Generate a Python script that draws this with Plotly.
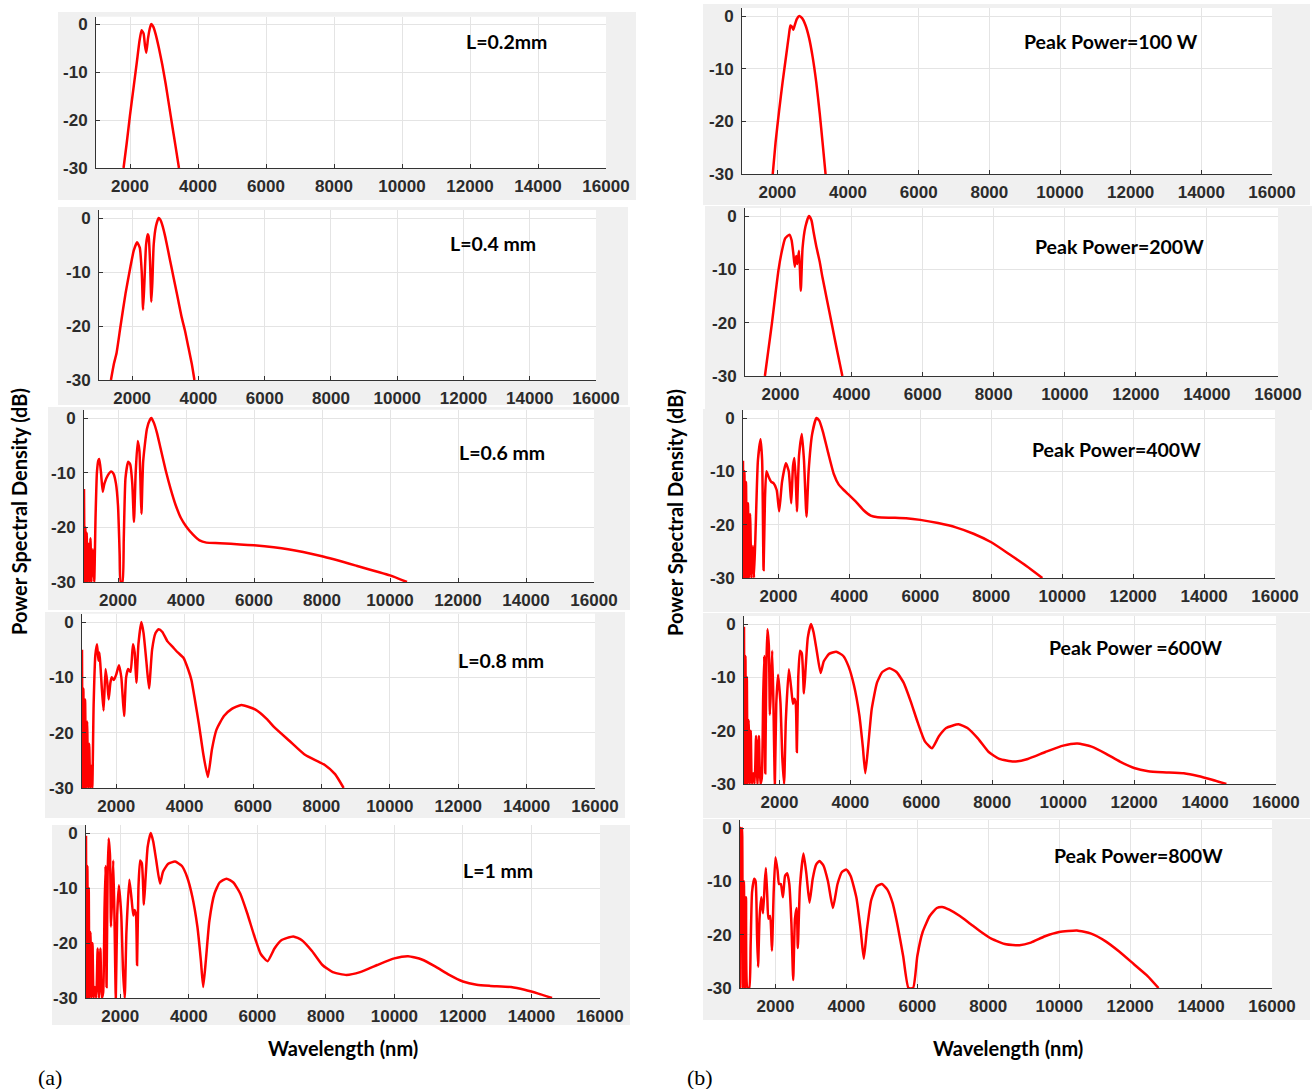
import plotly.graph_objects as go

# ---------------- data (wavelength nm, PSD dB) ----------------
x_ticks = [2000, 4000, 6000, 8000, 10000, 12000, 14000, 16000]
x_tick_text = ["2000", "4000", "6000", "8000", "10000", "12000", "14000", "16000"]
y_ticks = [-30, -20, -10, 0]
y_tick_text = ["-30", "-20", "-10", "0"]

l02_x = [1810, 1900, 2000, 2100, 2200, 2280, 2340, 2400, 2440, 2480, 2530, 2580, 2625, 2680, 2750, 2850, 2950, 3050, 3150, 3250, 3340, 3440]
l02_y = [-30, -25, -19, -13.5, -8, -3.5, -1.3, -2, -4.5, -6, -3, -1, 0, -0.5, -2, -5, -8.5, -12.5, -17, -21.5, -25.5, -30]

l04_x = [1360, 1450, 1530, 1650, 1800, 1950, 2050, 2150, 2230, 2290, 2330, 2370, 2420, 2470, 2500, 2540, 2580, 2610, 2650, 2720, 2800, 2850, 2920, 3000, 3100, 3200, 3300, 3400, 3500, 3600, 3700, 3800, 3880]
l04_y = [-30, -27, -25, -20, -14, -9, -6, -4.5, -5.5, -10, -17, -12, -5, -3, -3.5, -8, -15.5, -12, -5, -1.5, 0, -0.3, -1.5, -3.5, -6.5, -9.5, -12.5, -15.5, -18.5, -21, -24, -27, -30]

l06_x = [1000, 1020, 1040, 1060, 1080, 1100, 1130, 1160, 1190, 1220, 1260, 1300, 1340, 1380, 1420, 1450, 1500, 1550, 1600, 1700, 1800, 1870, 1940, 2000, 2050, 2080, 2130, 2170, 2220, 2300, 2360, 2420, 2470, 2520, 2580, 2630, 2670, 2690, 2740, 2850, 2940, 2980, 3050, 3150, 3250, 3400, 3550, 3700, 3850, 4000, 4200, 4400, 4600, 5000, 6000, 7000, 8000, 9000, 10000, 10500]
l06_y = [-13, -30, -20, -30, -21, -30, -23, -30, -22, -30, -24, -30, -18, -10, -7.8, -7.5, -10, -13.5, -12, -10.5, -9.8, -10.2, -12, -16, -25, -30, -30, -22, -11, -8, -8.5, -12, -19, -10, -4.2, -6, -14, -17.5, -8, -2, -0.3, 0, -0.8, -2.8, -5.5, -9.5, -13, -16, -18.3, -19.8, -21.3, -22.4, -22.8, -22.9, -23.3, -24, -25.3, -27, -28.8, -30]

l08_x = [1000, 1020, 1040, 1060, 1090, 1120, 1150, 1180, 1210, 1240, 1270, 1300, 1340, 1390, 1440, 1480, 1510, 1540, 1580, 1630, 1690, 1740, 1780, 1830, 1870, 1930, 2000, 2080, 2150, 2230, 2290, 2350, 2420, 2490, 2540, 2590, 2650, 2735, 2800, 2880, 2960, 3050, 3150, 3240, 3350, 3500, 3650, 3800, 3970, 4100, 4200, 4300, 4420, 4550, 4680, 4800, 4930, 5150, 5380, 5660, 6060, 6400, 6620, 7070, 7520, 8090, 8400, 8650]
l08_y = [-5, -30, -12, -30, -14, -30, -18, -30, -22, -30, -26, -30, -15, -6, -4, -7, -5.5, -8, -12, -16, -8.5, -11, -14, -11, -10, -10.5, -9.5, -7.8, -10, -17, -10, -8.5, -9, -4, -5.5, -11, -4, 0, -2, -7, -12, -5, -2, -1.3, -1.8, -3.5, -4.5, -5.5, -6.5, -8.5, -10.5, -14, -18.5, -24, -28, -23, -19.5, -17, -15.7, -15, -15.8, -17.5, -19, -21.5, -24, -25.8, -27.5, -30]

l10_x = [1000, 1020, 1040, 1060, 1080, 1100, 1130, 1160, 1190, 1220, 1260, 1300, 1340, 1380, 1420, 1460, 1500, 1540, 1570, 1600, 1630, 1660, 1700, 1730, 1760, 1795, 1830, 1870, 1910, 1960, 2030, 2080, 2130, 2180, 2265, 2330, 2380, 2420, 2460, 2490, 2530, 2580, 2630, 2690, 2740, 2800, 2890, 2960, 3050, 3160, 3250, 3400, 3600, 3800, 3950, 4100, 4250, 4350, 4420, 4500, 4600, 4750, 4900, 5100, 5300, 5500, 5700, 5900, 6100, 6300, 6500, 6700, 7050, 7300, 7600, 7900, 8200, 8600, 9000, 9500, 10000, 10400, 10800, 11200, 11600, 12000, 12400, 12800, 13400, 13800, 14200, 14600]
l10_y = [-0.5, -30, -6, -30, -10, -30, -18, -30, -20, -30, -28, -30, -21, -30, -21, -30, -29, -14, -6, -28, -8, -1, -4, -17, -12, -5, -15, -30, -15, -9.5, -15, -25, -30, -18, -8.5, -12, -15, -14, -15, -24, -10, -5, -5.5, -13, -8, -2.5, 0, -1.5, -5, -9.2, -7, -5.6, -5.2, -6, -8, -11.5, -17, -23, -28, -23, -16, -11, -9, -8.3, -9, -11, -14.5, -18.5, -22, -23.3, -21, -19.5, -18.8, -19.5, -21.5, -24, -25.3, -25.8, -25.3, -24, -22.8, -22.4, -23, -24.3, -25.8, -27, -27.6, -27.8, -28, -28.5, -29.2, -30]

p100_x = [1870, 1950, 2050, 2150, 2250, 2330, 2370, 2410, 2450, 2490, 2550, 2620, 2700, 2800, 2900, 3000, 3100, 3200, 3280, 3365]
p100_y = [-30, -24, -18, -12.5, -7.5, -3.5, -1.8, -2, -2.6, -1.8, -0.6, 0, -0.4, -1.8, -4.2, -7.8, -12.5, -18.5, -24, -30]

p200_x = [1560, 1660, 1760, 1850, 1945, 2040, 2130, 2250, 2310, 2360, 2400, 2440, 2470, 2520, 2570, 2620, 2700, 2800, 2870, 2930, 3000, 3100, 3180, 3300, 3450, 3600, 3740]
p200_y = [-30, -25, -20, -15, -10, -6.5, -4.2, -3.5, -4.5, -7, -9.5, -7.5, -9, -6.5, -14, -6, -2, 0, -0.8, -3, -5.5, -8.5, -11.5, -15.5, -20.5, -25.5, -30]

p400_x = [1000, 1020, 1040, 1060, 1085, 1110, 1140, 1170, 1200, 1240, 1280, 1310, 1360, 1420, 1495, 1540, 1580, 1620, 1660, 1720, 1800, 1860, 1950, 2020, 2100, 2210, 2290, 2360, 2410, 2450, 2490, 2520, 2580, 2660, 2720, 2790, 2850, 2950, 3070, 3150, 3250, 3400, 3560, 3700, 3840, 4000, 4200, 4400, 4600, 4800, 5200, 5600, 6000, 6500, 7000, 7500, 8000, 8500, 9000, 9440]
p400_y = [-8, -30, -10, -30, -12, -30, -16, -30, -18, -30, -24, -30, -20, -8, -4, -8, -28.5, -15, -10, -11, -12, -12.2, -13.5, -17.5, -12, -8.5, -10, -16, -9, -7.5, -12, -17.5, -7, -3, -8, -18.5, -10, -3, 0, -0.5, -2.5, -6.5, -10.5, -12.5, -13.5, -14.5, -15.8, -17.3, -18.3, -18.6, -18.7, -18.8, -19.1, -19.7, -20.5, -21.7, -23.3, -25.5, -27.8, -30]

p600_x = list(l10_x)
p600_y = list(l10_y)

p800_x = [1000, 1020, 1040, 1060, 1080, 1110, 1140, 1170, 1210, 1260, 1300, 1340, 1400, 1440, 1480, 1510, 1550, 1600, 1650, 1700, 1730, 1770, 1800, 1850, 1900, 1950, 2000, 2060, 2100, 2150, 2210, 2270, 2330, 2390, 2450, 2500, 2550, 2600, 2630, 2690, 2790, 2870, 2960, 3050, 3150, 3240, 3350, 3480, 3620, 3750, 3880, 4000, 4120, 4280, 4400, 4490, 4580, 4700, 4850, 5000, 5150, 5300, 5450, 5600, 5750, 5880, 6000, 6150, 6350, 6550, 6700, 6900, 7200, 7500, 7800, 8100, 8500, 8880, 9200, 9600, 10000, 10500, 10900, 11300, 11700, 12100, 12500, 12800]
p800_y = [-30, 0, -3, 0, -30, -10, -30, -13, -30, -30, -22, -12, -9.5, -10, -20, -26, -17, -13, -16, -10, -7.5, -13, -17, -16.5, -23, -12, -5.5, -8, -10.5, -10.5, -13, -9, -8.5, -10.5, -18, -28.5, -17, -15, -22.5, -11, -4.8, -8.5, -14, -9.5, -6.8, -6.2, -7, -10, -15, -10.5, -8.2, -7.8, -9, -13, -19, -24.5, -19, -13.5, -11, -10.5, -11.5, -14, -18.5, -24, -30, -30, -24, -19.5, -16.5, -15, -14.8, -15.3, -16.5, -18, -19.5, -20.8, -21.8, -22, -21.5, -20.3, -19.5, -19.2, -19.8, -21.2, -23.2, -25.5, -27.8, -30]

labels_a = ["L=0.2mm", "L=0.4 mm", "L=0.6 mm", "L=0.8 mm", "L=1 mm"]
labels_b = ["Peak Power=100 W", "Peak Power=200W", "Peak Power=400W", "Peak Power =600W", "Peak Power=800W"]

W, H = 1315, 1089


def fx(p):
    return p / W


def fy(p):
    return 1 - p / H


# panel geometry in pixels: (x at 1000 nm, x at 16000 nm, y at 0 dB, y at -30 dB)
geom = [
    (96, 606, 24, 168), (99, 596, 218, 380), (84, 594, 418, 582), (82, 595, 622, 788), (86, 600, 833, 998),
    (742, 1272, 16, 174), (745, 1278, 216, 376), (743, 1275, 418, 578), (744, 1276, 624, 784), (740, 1272, 828, 988),
]
# grey backgrounds (x0, y0, x1, y1) pixels
bgs = [
    (58, 12, 636, 200), (58, 207, 628, 405), (48, 407, 630, 610), (45, 612, 625, 818), (52, 825, 630, 1025),
    (703, 4, 1310, 205), (705, 206, 1312, 410), (703, 409, 1310, 612), (703, 613, 1310, 818), (703, 819, 1310, 1020),
]
lab_pos = [(506, 42), (493, 244), (502, 452), (501, 660), (498, 870),
           (1111, 41), (1119, 246), (1116, 450), (1135, 647), (1138, 855)]

series = [(l02_x, l02_y), (l04_x, l04_y), (l06_x, l06_y), (l08_x, l08_y), (l10_x, l10_y),
          (p100_x, p100_y), (p200_x, p200_y), (p400_x, p400_y), (p600_x, p600_y), (p800_x, p800_y)]
texts = labels_a + labels_b

fig = go.Figure()
layout = dict(width=W, height=H, margin=dict(l=0, r=0, t=0, b=0, autoexpand=False), autosize=False,
              paper_bgcolor="white", plot_bgcolor="white", showlegend=False)
shapes = []
annotations = []
tickfont = dict(family="Liberation Sans, Arial", size=17, color="#2b2b2b", weight="bold")
lab_font = dict(family="Lato, Open Sans, sans-serif", size=19.5, color="black", weight="bold")
YTOP = 1.5
for i, ((sx, sy), (xl, xr, y0, y30)) in enumerate(zip(series, geom)):
    n = i + 1
    xa = "xaxis" if n == 1 else f"xaxis{n}"
    ya = "yaxis" if n == 1 else f"yaxis{n}"
    xref = "x" if n == 1 else f"x{n}"
    yref = "y" if n == 1 else f"y{n}"
    ytop = y0 - YTOP * (y30 - y0) / 30.0
    layout[xa] = dict(domain=[fx(xl), fx(xr)], range=[1000, 16000], anchor=yref, automargin=False,
                      tickvals=x_ticks, ticktext=x_tick_text, ticks="inside", ticklen=4, tickcolor="#333",
                      showgrid=True, gridcolor="#e4e4e4", gridwidth=1,
                      showline=True, linecolor="#333", linewidth=1, mirror=False,
                      zeroline=False, tickfont=tickfont, ticklabelstandoff=3)
    layout[ya] = dict(domain=[fy(y30), fy(ytop)], range=[-30, YTOP], anchor=xref, automargin=False,
                      tickvals=y_ticks, ticktext=y_tick_text, ticks="inside", ticklen=4, tickcolor="#333",
                      showgrid=True, gridcolor="#e4e4e4", gridwidth=1,
                      showline=True, linecolor="#333", linewidth=1, mirror=False,
                      zeroline=False, tickfont=tickfont, ticklabelstandoff=4)
    fig.add_trace(go.Scatter(x=sx, y=sy, mode="lines", xaxis=xref, yaxis=yref,
                             line=dict(color="#ff0000", width=2.5, shape="spline", smoothing=0.5),
                             hoverinfo="skip"))
    bx0, by0, bx1, by1 = bgs[i]
    shapes.append(dict(type="rect", xref="paper", yref="paper", layer="below",
                       x0=fx(bx0), x1=fx(bx1), y0=fy(by1), y1=fy(by0),
                       fillcolor="#f0f0f0", line=dict(width=0)))
    shapes.append(dict(type="rect", xref="paper", yref="paper", layer="below",
                       x0=fx(xl), x1=fx(xr), y0=fy(y30), y1=fy(ytop),
                       fillcolor="white", line=dict(width=0)))
    px, py = lab_pos[i]
    annotations.append(dict(text=texts[i], xref="paper", yref="paper", x=fx(px), y=fy(py),
                            showarrow=False, xanchor="center", yanchor="middle", font=lab_font))

title_font = dict(family="Lato, Open Sans, sans-serif", size=20, color="black", weight="bold")
serif = dict(family="Liberation Serif, Times New Roman, serif", size=22, color="black")
annotations += [
    dict(text="Power Spectral Density (dB)", xref="paper", yref="paper", x=fx(19), y=fy(512),
         textangle=-90, showarrow=False, font=title_font, xanchor="center", yanchor="middle"),
    dict(text="Power Spectral Density (dB)", xref="paper", yref="paper", x=fx(675), y=fy(512),
         textangle=-90, showarrow=False, font=title_font, xanchor="center", yanchor="middle"),
    dict(text="Wavelength (nm)", xref="paper", yref="paper", x=fx(343), y=fy(1048),
         showarrow=False, font=title_font, xanchor="center", yanchor="middle"),
    dict(text="Wavelength (nm)", xref="paper", yref="paper", x=fx(1008), y=fy(1048),
         showarrow=False, font=title_font, xanchor="center", yanchor="middle"),
    dict(text="(a)", xref="paper", yref="paper", x=fx(50), y=fy(1077), showarrow=False,
         font=serif, xanchor="center", yanchor="middle"),
    dict(text="(b)", xref="paper", yref="paper", x=fx(700), y=fy(1077), showarrow=False,
         font=serif, xanchor="center", yanchor="middle"),
]
layout["shapes"] = shapes
layout["annotations"] = annotations
fig.update_layout(**layout)

fit_js = (
    "document.body.style.margin='0';"
    "document.documentElement.style.overflow='hidden';"
    "document.body.style.overflow='hidden';"
    "var gd=document.getElementById('{plot_id}');"
    "gd.style.width=window.innerWidth+'px';gd.style.height=window.innerHeight+'px';"
    "Plotly.relayout(gd,{width:window.innerWidth,height:window.innerHeight});"
)
fig.write_html("out.html", config={"displayModeBar": False}, post_script=fit_js)
